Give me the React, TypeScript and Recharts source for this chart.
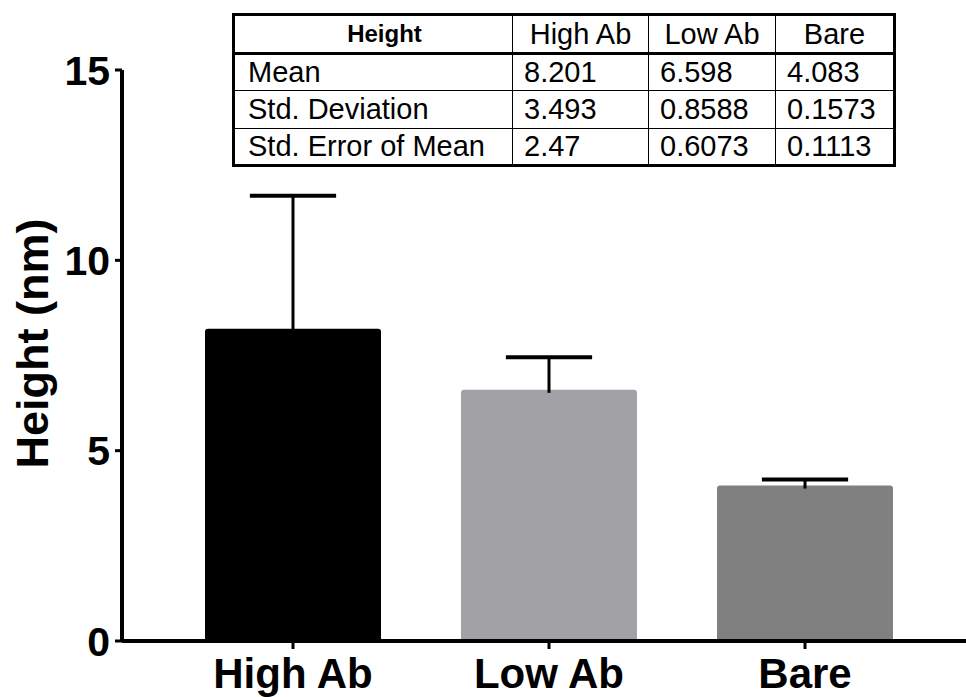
import React from 'react';
import { BarChart, Bar, XAxis, YAxis, Rectangle } from 'recharts';

const categories = ['High Ab', 'Low Ab', 'Bare'];
const means = [8.201, 6.598, 4.083];
const stdDevs = [3.493, 0.8588, 0.1573];
const stdErrs = [2.47, 0.6073, 0.1113];
const barColors = ['#000000', '#a2a1a6', '#808080'];
const yTicks = [0, 5, 10, 15];
const tableTitle = 'Height';
const rowLabels = ['Mean', 'Std. Deviation', 'Std. Error of Mean'];
const rowValues = [means, stdDevs, stdErrs];

const data = categories.map((name, i) => ({
  name,
  mean: means[i],
  sd: stdDevs[i],
  color: barColors[i],
}));

const FONT = '"Liberation Sans", Arial, Helvetica, sans-serif';

const BarWithError = (props: any) => {
  const { x, y, width, height, payload } = props;
  if (!payload || height <= 0) return null;
  const pxPerUnit = height / payload.mean;
  const errTop = y - payload.sd * pxPerUnit;
  const cx = x + width / 2;
  const capHalf = width * 0.245;
  return (
    <g>
      <Rectangle x={x} y={y} width={width} height={height} radius={[3, 3, 0, 0]} fill={payload.color} />
      <line x1={cx} x2={cx} y1={y + 3} y2={errTop} stroke="#000" strokeWidth={3} />
      <line x1={cx - capHalf} x2={cx + capHalf} y1={errTop} y2={errTop} stroke="#000" strokeWidth={4} />
    </g>
  );
};

const YTitle = (props: any) => {
  const vb = props.viewBox || { x: 0, y: 70, width: 122, height: 571 };
  const x = vb.x + 48;
  const y = vb.y + vb.height / 2 - 12;
  return (
    <text
      x={x}
      y={y}
      transform={`rotate(-90 ${x} ${y})`}
      textAnchor="middle"
      fontSize={45}
      fontWeight="bold"
      fontFamily={FONT}
      fill="#000"
    >
      Height (nm)
    </text>
  );
};

const border = '1.5px solid #000';
const baseCell: React.CSSProperties = {
  border,
  fontFamily: FONT,
  fontSize: 29,
  lineHeight: 1,
  verticalAlign: 'middle',
  padding: '0 0 0 11px',
  whiteSpace: 'nowrap',
  overflow: 'hidden',
  color: '#000',
};

export default function App() {
  return (
    <div style={{ position: 'absolute', left: 0, top: 0, width: 966, height: 697, background: '#fff' }}>
      <BarChart width={966} height={697} data={data} margin={{ top: 70, right: 0, bottom: 0, left: 0 }}>
        <XAxis
          dataKey="name"
          height={56}
          padding={{ left: 43, right: 33 }}
          axisLine={{ stroke: '#000', strokeWidth: 4 }}
          tickLine={{ stroke: '#000', strokeWidth: 3 }}
          tickSize={8}
          tickMargin={9}
          tick={{ fontSize: 42, fontWeight: 'bold', fill: '#000', fontFamily: FONT }}
        />
        <YAxis
          width={122}
          domain={[0, 15]}
          ticks={yTicks}
          interval={0}
          axisLine={{ stroke: '#000', strokeWidth: 4 }}
          tickLine={{ stroke: '#000', strokeWidth: 3 }}
          tickSize={7}
          tickMargin={5}
          tick={{ fontSize: 41, fontWeight: 'bold', fill: '#000', fontFamily: FONT }}
          label={<YTitle />}
        />
        <Bar dataKey="mean" barSize={176} isAnimationActive={false} shape={<BarWithError />} />
      </BarChart>
      <table
        style={{
          position: 'absolute',
          left: 232,
          top: 13,
          width: 661,
          borderCollapse: 'collapse',
          tableLayout: 'fixed',
          border: '3px solid #000',
        }}
      >
        <colgroup>
          <col style={{ width: 279 }} />
          <col style={{ width: 136 }} />
          <col style={{ width: 127 }} />
          <col style={{ width: 119 }} />
        </colgroup>
        <tbody>
          <tr style={{ height: 39 }}>
            <td
              style={{
                ...baseCell,
                fontSize: 24,
                fontWeight: 'bold',
                textAlign: 'center',
                padding: '0 0 0 22px',
                borderBottom: '3px solid #000',
              }}
            >
              {tableTitle}
            </td>
            {categories.map((c) => (
              <td key={c} style={{ ...baseCell, textAlign: 'center', padding: 0, borderBottom: '3px solid #000' }}>
                {c}
              </td>
            ))}
          </tr>
          {rowLabels.map((label, r) => (
            <tr key={label} style={{ height: r === 1 ? 38 : 37 }}>
              <td style={{ ...baseCell, padding: '0 0 0 13px' }}>{label}</td>
              {rowValues[r].map((v, i) => (
                <td key={i} style={baseCell}>
                  {String(v)}
                </td>
              ))}
            </tr>
          ))}
        </tbody>
      </table>
    </div>
  );
}
